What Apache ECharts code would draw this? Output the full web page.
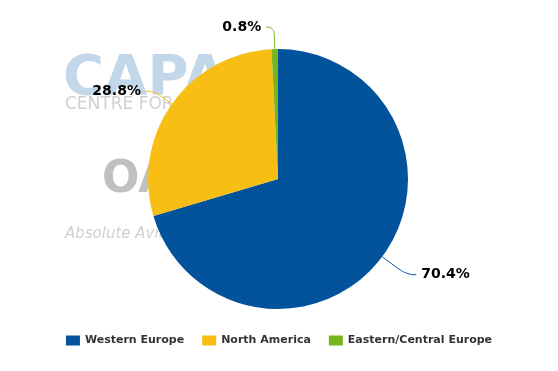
<!DOCTYPE html>
<html><head><meta charset="utf-8">
<script src="https://cdn.jsdelivr.net/npm/echarts@6/dist/echarts.min.js"></script>
<style>html,body{margin:0;padding:0;background:#fff}#c{width:558px;height:371px}</style>
</head><body><div id="c"></div>
<script>
const categories = ['Western Europe', 'North America', 'Eastern/Central Europe'];
const values = [70.4, 28.8, 0.8];
const colors = ['#02529C', '#F8BE14', '#79B41D'];

const chart = echarts.init(document.getElementById('c'));
chart.setOption({
  animation: false,
  backgroundColor: '#fff',
  color: colors,
  graphic: [
    {type: 'text', left: 63, top: 51, z: -10, style: {text: 'CAPA', font: 'bold 56px "DejaVu Sans"', fill: '#c3d7ea'}},
    {type: 'text', left: 65, top: 96, z: -10, style: {text: 'CENTRE FOR AVIATION', font: '17px "DejaVu Sans"', fill: '#d0d0d0'}},
    {type: 'text', left: 102, top: 159, z: -10, style: {text: 'OAG', font: 'bold 44px "DejaVu Sans"', fill: '#c0c0c0'}},
    {type: 'text', left: 65, top: 227, z: -10, style: {text: 'Absolute Aviation Intelligence', font: 'italic 15px "DejaVu Sans"', fill: '#d0d0d0'}}
  ],
  legend: {
    bottom: 20,
    left: 'center',
    icon: 'rect',
    itemWidth: 14,
    itemHeight: 10,
    itemGap: 18,
    textStyle: {fontFamily: 'DejaVu Sans', fontWeight: 'bold', fontSize: 11, color: '#333'},
    data: categories
  },
  series: [{
    type: 'pie',
    center: [278, 179],
    radius: 130,
    startAngle: 90,
    clockwise: true,
    data: categories.map((n, i) => {
      const d = {name: n, value: values[i]};
      if (i === 0) d.labelLine = {length: 30, length2: 10};
      return d;
    }),
    label: {
      show: true,
      formatter: p => p.value.toFixed(1) + '%',
      fontFamily: 'DejaVu Sans',
      fontWeight: 'bold',
      fontSize: 14,
      color: '#000'
    },
    labelLine: {show: true, length: 22, length2: 8, smooth: 0.5, lineStyle: {width: 1}},
    itemStyle: {borderWidth: 0}
  }]
});
</script></body></html>
